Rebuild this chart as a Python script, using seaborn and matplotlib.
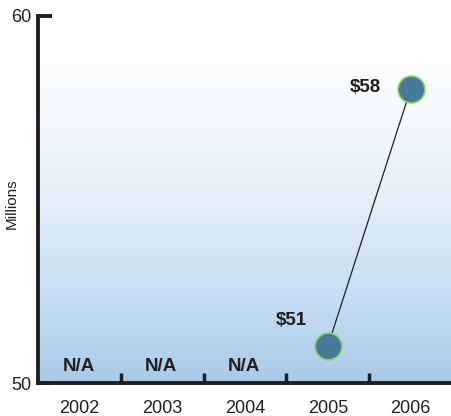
import numpy as np
import pandas as pd
import matplotlib
matplotlib.use("Agg")
import matplotlib.pyplot as plt
import seaborn as sns
from matplotlib.colors import LinearSegmentedColormap

years = ["2002", "2003", "2004", "2005", "2006"]
values = [np.nan, np.nan, np.nan, 51, 58]
value_labels = ["N/A", "N/A", "N/A", "$51", "$58"]
y_ticks = [50, 60]

sns.set_theme(style="white")
plt.rcParams["font.family"] = ["Liberation Sans", "DejaVu Sans"]

df = pd.DataFrame({"year": years, "pos": range(len(years)), "value": values})
known = df.dropna()

ink = "#231f20"
fig = plt.figure(figsize=(4.52, 4.16), dpi=100)
ax = fig.add_axes([0.084, 0.079, 0.916, 0.883])

# vertical white-to-blue background gradient
cmap = LinearSegmentedColormap.from_list(
    "bg",
    [(0.0, "#a8cae8"), (0.12, "#b8d4ee"), (0.23, "#c5ddf2"),
     (0.5, "#e4eff9"), (0.77, "#f8fbfe"), (1.0, "#ffffff")])
grad = np.linspace(0, 1, 256).reshape(-1, 1)
ax.imshow(grad, aspect="auto", cmap=cmap, origin="lower",
          extent=[-0.5, 4.5, 50, 60], zorder=0)

sns.lineplot(data=known, x="pos", y="value", color=ink, linewidth=0.9,
             ax=ax, zorder=2)
sns.scatterplot(data=known, x="pos", y="value", s=370, color="#467a9b",
                edgecolor="#8fcf60", linewidth=1.2, ax=ax, zorder=3)

# label placement (x shift, y shift) relative to each point
label_offsets = {3: (-0.25, 0.7), 4: (-0.36, 0.05)}
for i, (v, lab) in enumerate(zip(values, value_labels)):
    if np.isnan(v):
        ax.text(i - 0.01, 50.22, lab, ha="center", va="bottom",
                fontsize=13.5, fontweight="bold", color=ink)
    else:
        dx, dy = label_offsets[i]
        ax.text(i + dx, v + dy, lab, ha="right", va="center",
                fontsize=13.5, fontweight="bold", color=ink)

ax.set_xlim(-0.5, 4.5)
ax.set_ylim(50, 60)
ax.set_xticks([0.5, 1.5, 2.5, 3.5], minor=False)
ax.set_xticklabels([])
ax.set_xticks(range(len(years)), minor=True)
ax.set_xticklabels(years, minor=True)
ax.tick_params(axis="x", which="major", direction="in", length=7, width=2.5,
               color=ink, bottom=True)
ax.tick_params(axis="x", which="minor", length=0, pad=12, labelsize=13,
               colors=ink)
ax.set_yticks(y_ticks)
ax.set_yticklabels([str(t) for t in y_ticks])
ax.tick_params(axis="y", direction="in", length=10, width=2.8, color=ink,
               left=True, labelsize=13, labelcolor=ink, pad=5)
ax.set_xlabel("")
ax.set_ylabel("")
fig.text(12 / 452, 1 - 204 / 416, "Millions", rotation=90, ha="center",
         va="center", fontsize=11, color=ink)

for side in ["top", "right"]:
    ax.spines[side].set_visible(False)
for side in ["left", "bottom"]:
    ax.spines[side].set_linewidth(2.8)
    ax.spines[side].set_color(ink)

fig.savefig("out.png", dpi=100)
